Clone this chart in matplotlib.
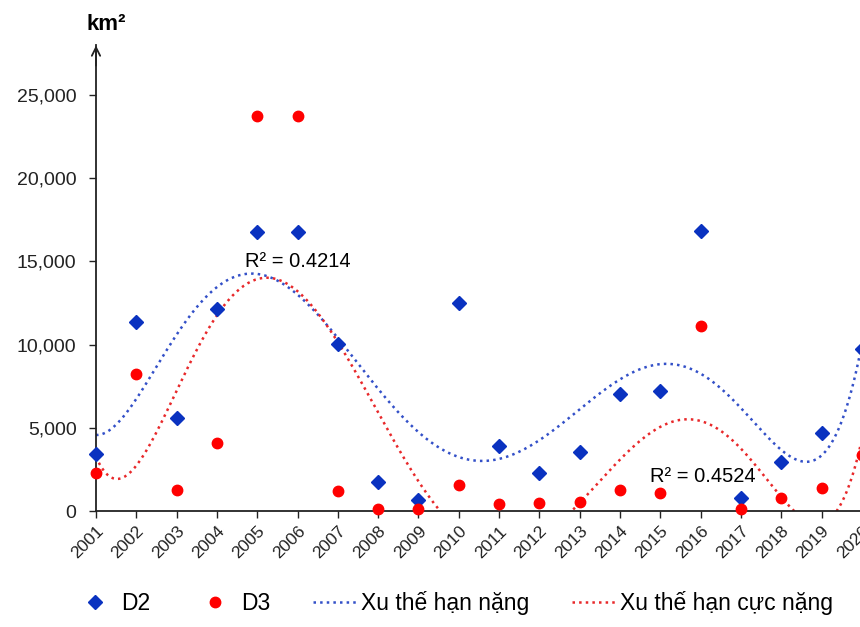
import numpy as np
import matplotlib
matplotlib.use('Agg')
from matplotlib import pyplot as plt
from matplotlib.lines import Line2D

plt.rcParams['font.family'] = ['Liberation Sans', 'DejaVu Sans']

years = list(range(2001, 2021))
d2 = [3400, 11360, 5590, 12140, 16790, 16790, 10020, 1720, 660, 12520,
      3930, 2300, 3550, 7010, 7210, 16830, 760, 2960, 4710, 9740]
d3 = [2260, 8220, 1280, 4070, 23760, 23760, 1180, 140, 140, 1580,
      420, 500, 520, 1280, 1100, 11140, 120, 800, 1380, 3370]
r2_labels = ['R² = 0.4214', 'R² = 0.4524']
legend_labels = ['D2', 'D3', 'Xu thế hạn nặng', 'Xu thế hạn cực nặng']

fig = plt.figure(figsize=[8.6, 6.27], dpi=100)
ax = fig.add_axes([96/860, 116/627, 786/860, 466/627])

x = np.array(years, dtype=float)
xs = np.linspace(2001, 2020, 400)
c2 = np.polyfit(x - 2000, d2, 6)
c3 = np.polyfit(x - 2000, d3, 6)
ax.plot(xs, np.polyval(c2, xs - 2000), color='#3350c8', ls=':', lw=1.8, zorder=2)
ax.plot(xs, np.polyval(c3, xs - 2000), color='#e8282a', ls=':', lw=1.8, zorder=2)

ax.plot(years, d2, 'D', color='#0a32c0', ms=7.2, ls='none', zorder=3, clip_on=False)
ax.plot(years, d3, 'o', color='#ff0000', ms=7.5, ls='none', zorder=3, clip_on=False)

ax.text(2004.70, 14660, r2_labels[0], fontsize=14.5, ha='left', va='baseline')
ax.text(2014.75, 1760, r2_labels[1], fontsize=14.5, ha='left', va='baseline')

ax.set_xlim(2001, 2020.5)
ax.set_ylim(0, 28000)
ax.set_xticks(years)
ax.set_xticklabels([str(y) for y in years], rotation=45, ha='right',
                   rotation_mode='anchor', fontsize=12.5)
ax.set_yticks(range(0, 25001, 5000))
ax.set_yticklabels(['{:,}'.format(v) for v in range(0, 25001, 5000)], fontsize=14)
ax.tick_params(axis='both', direction='out', length=5, width=1, color='#333333')
ax.tick_params(axis='y', pad=9, colors='#222222')
ax.tick_params(axis='x', pad=4, colors='#222222')
for s in ['top', 'right']:
    ax.spines[s].set_visible(False)
for s in ['left', 'bottom']:
    ax.spines[s].set_linewidth(1.3)
    ax.spines[s].set_color('#222222')
ax.annotate('', xy=(0, 1.005), xycoords='axes fraction', xytext=(0, 0.95),
            arrowprops=dict(arrowstyle='->', lw=1.3, color='#222222',
                            mutation_scale=15))
fig.text(87/860, 1 - 24/627, 'km²', fontsize=16, fontweight='bold',
         ha='left', va='center')

handles = [
    Line2D([], [], marker='D', color='#0a32c0', ls='none', ms=7.2),
    Line2D([], [], marker='o', color='#ff0000', ls='none', ms=7.5),
    Line2D([], [], color='#3350c8', ls=':', lw=1.8),
    Line2D([], [], color='#e8282a', ls=':', lw=1.8),
]
fig.legend(handles, legend_labels, loc='center', bbox_to_anchor=(453/860, 1 - 603/627),
           ncol=4, frameon=False, fontsize=16.5, handlelength=1.9,
           columnspacing=1.85, handletextpad=0.2)

fig.savefig('out.png', dpi=100)
